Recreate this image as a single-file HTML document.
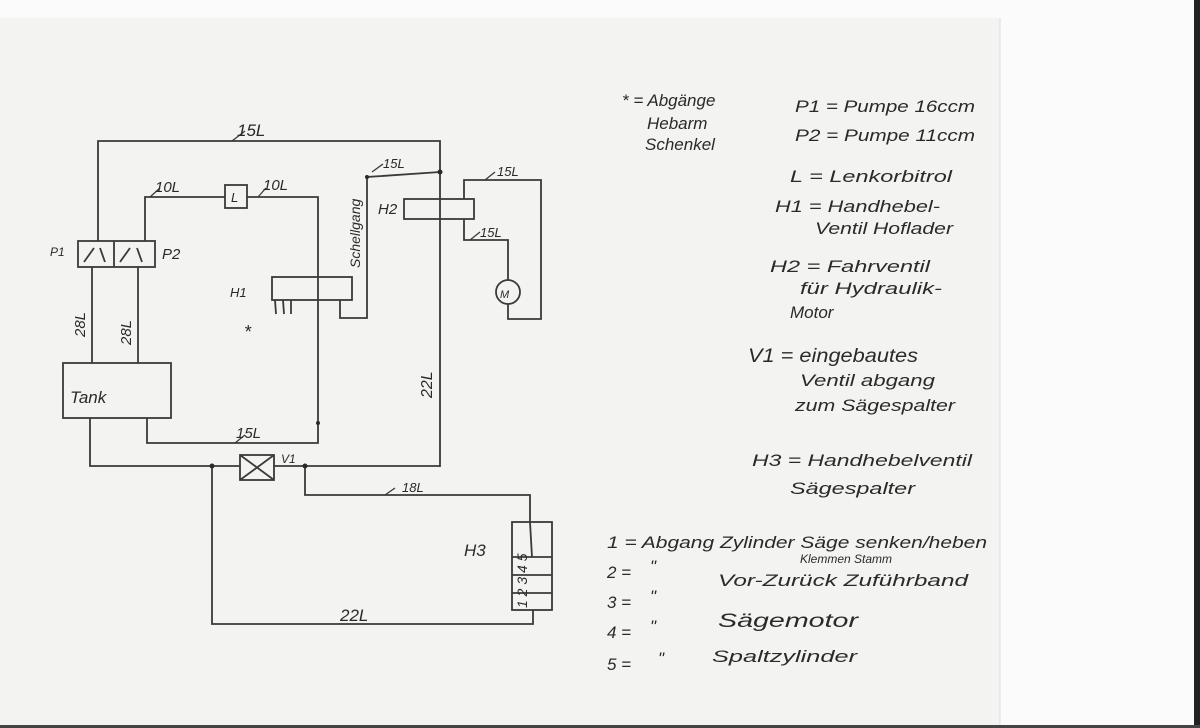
<!DOCTYPE html>
<html><head><meta charset="utf-8"><style>
html,body{margin:0;padding:0;background:#fff}
svg{display:block}
text{font-family:"Liberation Sans",sans-serif;font-style:italic;fill:#2a2a2a}
</style></head><body>
<svg width="1200" height="728" viewBox="0 0 1200 728" xmlns="http://www.w3.org/2000/svg">
<rect x="0" y="0" width="1200" height="728" fill="#fbfbfb"/>
<rect x="0" y="18" width="1000" height="710" fill="#f3f3f1"/>
<line x1="1000" y1="18" x2="1000" y2="728" stroke="#ddd" stroke-width="1"/>
<rect x="1194" y="0" width="6" height="728" fill="#222"/>
<rect x="0" y="725" width="1200" height="3" fill="#444"/>

<g stroke="#3a3a3a" stroke-width="1.8" fill="none">
<polyline points="98,241 98,141 440,141 440,467"/>
<polyline points="145,241 145,197 225,197"/>
<rect x="225" y="185" width="22" height="23"/>
<polyline points="247,197 318,197 318,443 147,443 147,418"/>
<rect x="78" y="241" width="77" height="26"/>
<line x1="114" y1="241" x2="114" y2="267"/>
<line x1="84" y1="262" x2="94" y2="248"/><line x1="100" y1="248" x2="105" y2="262"/>
<line x1="120" y1="262" x2="130" y2="248"/><line x1="137" y1="248" x2="142" y2="262"/>
<line x1="92" y1="267" x2="92" y2="363"/>
<line x1="138" y1="267" x2="138" y2="363"/>
<rect x="63" y="363" width="108" height="55"/>
<polyline points="90,418 90,466 240,466"/>
<rect x="240" y="455" width="34" height="25"/>
<line x1="240" y1="455" x2="274" y2="480"/><line x1="274" y1="455" x2="240" y2="480"/>
<line x1="274" y1="466" x2="440" y2="466"/>
<polyline points="212,466 212,624 533,624 533,610"/>
<polyline points="305,466 305,495 530,495 530,522"/>
<rect x="512" y="522" width="40" height="88"/>
<line x1="512" y1="557" x2="552" y2="557"/>
<line x1="512" y1="575" x2="552" y2="575"/>
<line x1="512" y1="593" x2="552" y2="593"/>
<line x1="530" y1="522" x2="532" y2="557"/>
<rect x="272" y="277" width="80" height="23"/>
<line x1="275" y1="300" x2="276" y2="314"/><line x1="283" y1="300" x2="284" y2="314"/><line x1="291" y1="300" x2="291" y2="314"/>
<polyline points="340,300 340,318 367,318 367,177 440,172"/>
<rect x="404" y="199" width="70" height="20"/>
<polyline points="464,199 464,180 541,180 541,319 508,319 508,304"/>
<polyline points="464,219 464,240 508,240 508,280"/>
<circle cx="508" cy="292" r="12"/>
</g>
<g fill="#2a2a2a">
<circle cx="440" cy="172" r="2.5"/><circle cx="367" cy="177" r="2"/>
<circle cx="212" cy="466" r="2.5"/><circle cx="305" cy="466" r="2.5"/><circle cx="318" cy="423" r="2"/>
</g>
<g stroke="#3a3a3a" stroke-width="1.3" fill="none">
<line x1="232" y1="141" x2="245" y2="131"/>
<line x1="150" y1="197" x2="160" y2="188"/>
<line x1="258" y1="197" x2="266" y2="188"/>
<line x1="372" y1="172" x2="383" y2="164"/>
<line x1="485" y1="180" x2="495" y2="172"/>
<line x1="470" y1="240" x2="480" y2="232"/>
<line x1="235" y1="443" x2="245" y2="435"/>
<line x1="385" y1="495" x2="395" y2="488"/>
</g>

<g font-size="15">
<text x="237" y="136" font-size="17">15L</text>
<text x="155" y="192">10L</text>
<text x="263" y="190">10L</text>
<text x="231" y="202" font-size="13">L</text>
<text x="383" y="168" font-size="13">15L</text>
<text x="497" y="176" font-size="13">15L</text>
<text x="480" y="237" font-size="13">15L</text>
<text x="378" y="214">H2</text>
<text x="230" y="297" font-size="13">H1</text>
<text x="244" y="338" font-size="18">*</text>
<text x="50" y="256" font-size="12">P1</text>
<text x="162" y="259">P2</text>
<text x="70" y="403" font-size="17">Tank</text>
<text x="85" y="337" transform="rotate(-90 85 337)" font-size="15">28L</text>
<text x="131" y="345" transform="rotate(-90 131 345)" font-size="15">28L</text>
<text x="432" y="398" transform="rotate(-90 432 398)" font-size="16">22L</text>
<text x="360" y="268" transform="rotate(-90 360 268)" font-size="14">Schellgang</text>
<text x="236" y="438">15L</text>
<text x="281" y="463" font-size="12">V1</text>
<text x="402" y="492" font-size="13">18L</text>
<text x="464" y="556" font-size="17">H3</text>
<text x="340" y="621" font-size="17">22L</text>
<text x="527" y="608" transform="rotate(-90 527 608)" font-size="14">1 2 3 4 5</text>
<text x="500" y="298" font-size="11">M</text>
</g>

<g font-size="17" lengthAdjust="spacingAndGlyphs">
<text x="622" y="106">* = Abgänge</text>
<text x="647" y="129">Hebarm</text>
<text x="645" y="150">Schenkel</text>
<text x="795" y="112" textLength="180" lengthAdjust="spacingAndGlyphs">P1 = Pumpe 16ccm</text>
<text x="795" y="141" textLength="180" lengthAdjust="spacingAndGlyphs">P2 = Pumpe 11ccm</text>
<text x="790" y="182" textLength="162" lengthAdjust="spacingAndGlyphs">L = Lenkorbitrol</text>
<text x="775" y="212" textLength="165" lengthAdjust="spacingAndGlyphs">H1 = Handhebel-</text>
<text x="815" y="234" textLength="138" lengthAdjust="spacingAndGlyphs">Ventil Hoflader</text>
<text x="770" y="272" textLength="160" lengthAdjust="spacingAndGlyphs">H2 = Fahrventil</text>
<text x="800" y="294" textLength="142" lengthAdjust="spacingAndGlyphs">für Hydraulik-</text>
<text x="790" y="318">Motor</text>
<text x="748" y="362" textLength="170" lengthAdjust="spacingAndGlyphs" font-size="19">V1 = eingebautes</text>
<text x="800" y="386" textLength="135" lengthAdjust="spacingAndGlyphs">Ventil abgang</text>
<text x="795" y="411" textLength="160" lengthAdjust="spacingAndGlyphs">zum Sägespalter</text>
<text x="752" y="466" textLength="220" lengthAdjust="spacingAndGlyphs">H3 = Handhebelventil</text>
<text x="790" y="494" textLength="125" lengthAdjust="spacingAndGlyphs">Sägespalter</text>
<text x="607" y="548" textLength="380" lengthAdjust="spacingAndGlyphs">1 = Abgang Zylinder Säge senken/heben</text>
<text x="800" y="563" font-size="12">Klemmen Stamm</text>
<text x="607" y="578">2 =</text><text x="650" y="572">"</text>
<text x="718" y="586" textLength="250" lengthAdjust="spacingAndGlyphs">Vor-Zurück Zuführband</text>
<text x="607" y="608">3 =</text><text x="650" y="602">"</text>
<text x="718" y="627" textLength="140" lengthAdjust="spacingAndGlyphs" font-size="19">Sägemotor</text>
<text x="607" y="638">4 =</text><text x="650" y="632">"</text>
<text x="607" y="670">5 =</text><text x="658" y="664">"</text>
<text x="712" y="662" textLength="145" lengthAdjust="spacingAndGlyphs">Spaltzylinder</text>
</g>
</svg>
</body></html>
